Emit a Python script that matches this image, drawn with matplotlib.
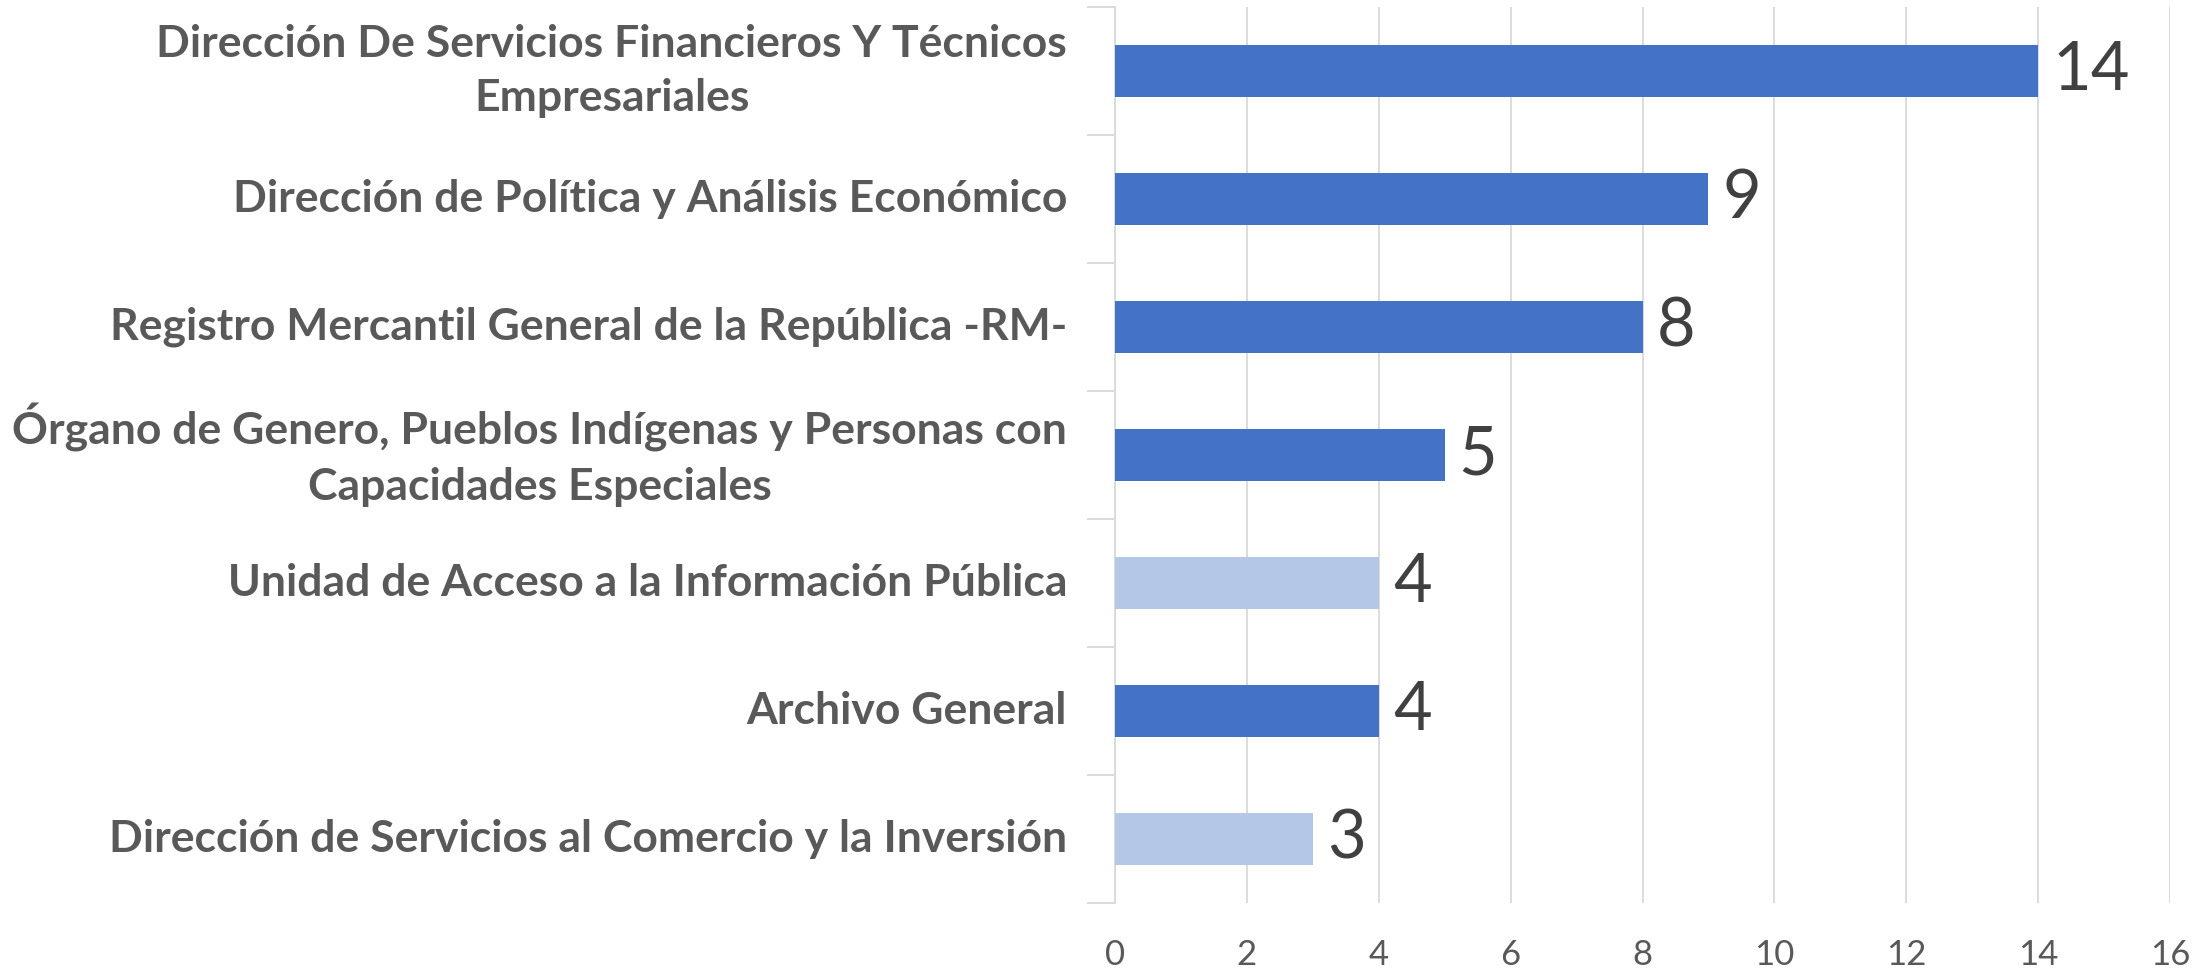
import matplotlib
matplotlib.use("Agg")
import matplotlib.pyplot as plt
import numpy as np

categories = [
    "Dirección De Servicios Financieros Y Técnicos\nEmpresariales",
    "Dirección de Política y Análisis Económico",
    "Registro Mercantil General de la República -RM-",
    "Órgano de Genero, Pueblos Indígenas y Personas con\nCapacidades Especiales",
    "Unidad de Acceso a la Información Pública",
    "Archivo General",
    "Dirección de Servicios al Comercio y la Inversión",
]
values = [14, 9, 8, 5, 4, 4, 3]
highlight = [False, False, False, False, True, False, True]
xticks = [0, 2, 4, 6, 8, 10, 12, 14, 16]

dark = "#4472C4"
light = "#B4C7E7"
colors = [light if h else dark for h in highlight]

fig = plt.figure(figsize=(22.02, 9.68), dpi=100)
ax = fig.add_axes([1115/2202, 1-903/968, (2170-1115)/2202, (903-7)/968])

n = len(categories)
y = np.arange(n)
ax.barh(y, values, height=0.4, color=colors, zorder=3)
ax.set_ylim(n - 0.5, -0.5)
ax.set_xlim(0, 16)
ax.set_xticks(xticks)
ax.set_xticklabels([str(t) for t in xticks], fontfamily="Lato", fontsize=25, color="#595959")
ax.tick_params(axis="x", length=0, pad=26)
ax.grid(axis="x", color="#D9D9D9", linewidth=1.3, zorder=0)

ax.set_yticks(y)
ax.set_yticklabels([])
ax.tick_params(axis="y", which="major", length=0)
ax.set_yticks(np.arange(n + 1) - 0.5, minor=True)
ax.tick_params(axis="y", which="minor", length=20, color="#D9D9D9", width=1.3)

for s in ["top", "right", "bottom"]:
    ax.spines[s].set_visible(False)
ax.spines["left"].set_color("#D9D9D9")
ax.spines["left"].set_linewidth(1.3)

for yi, lab in zip(y, categories):
    ax.annotate(lab, xy=(0, yi), xycoords="data", xytext=(-48, 0), textcoords="offset pixels",
                ha="right", va="center", multialignment="center",
                fontfamily="Lato", fontweight="bold", fontsize=32, color="#595959",
                linespacing=1.45)

for yi, v in zip(y, values):
    ax.annotate(str(v), xy=(v, yi), xycoords="data", xytext=(14, 0), textcoords="offset pixels",
                ha="left", va="center", fontfamily="Lato", fontsize=48, color="#404040")

fig.savefig("out.png", dpi=100)
